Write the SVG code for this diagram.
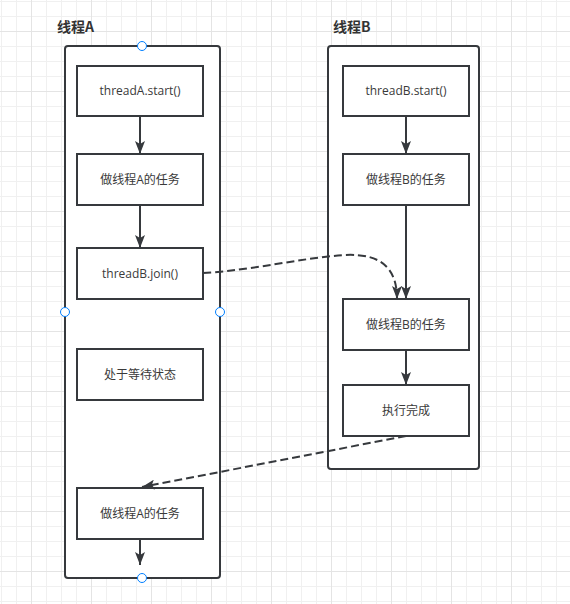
<svg xmlns="http://www.w3.org/2000/svg" width="570" height="604" viewBox="0 0 570 604">
<defs>
<pattern id="grid" x="1" y="1" width="60" height="60" patternUnits="userSpaceOnUse">
<rect x="0" y="0" width="60" height="60" fill="#ffffff"/>
<g fill="#f0f0f0">
<rect x="0" y="0" width="1" height="60"/>
<rect x="15" y="0" width="1" height="60"/>
<rect x="45" y="0" width="1" height="60"/>
<rect x="0" y="0" width="60" height="1"/>
<rect x="0" y="15" width="60" height="1"/>
<rect x="0" y="45" width="60" height="1"/>
</g>
<g fill="#e4e4e4">
<rect x="30" y="0" width="1" height="60"/>
<rect x="0" y="30" width="60" height="1"/>
</g>
</pattern>
<marker id="arr" viewBox="0 0 13 10" refX="13" refY="5" markerWidth="13" markerHeight="10" markerUnits="userSpaceOnUse" orient="auto">
<path d="M0,0 L13,5 L0,10 L3,5 z" fill="#36393d"/>
</marker>
<style>
.cont{fill:#ffffff;stroke:#36393d;stroke-width:2}
.box{fill:#ffffff;stroke:#36393d;stroke-width:2}
.lbl{font-family:"Open Sans","Noto Sans CJK SC",sans-serif;font-size:12px;fill:#3a3a3a;text-anchor:middle}
.title{font-family:"Noto Sans CJK SC","Liberation Sans",sans-serif;font-size:14px;font-weight:bold;fill:#333333}
.edge{fill:none;stroke:#36393d;stroke-width:2;marker-end:url(#arr)}
.dash{stroke-dasharray:8 4}
.hdl{fill:#ffffff;stroke:#007fff;stroke-width:1}
</style>
</defs>
<rect x="0" y="0" width="570" height="604" fill="url(#grid)"/>

<g id="threadA">
<rect class="cont" x="65" y="46" width="155" height="532" rx="3"/>
<text class="title" x="57" y="32">线程A</text>
</g>
<g id="threadB">
<rect class="cont" x="328" y="46" width="151" height="423" rx="3"/>
<text class="title" x="333" y="32">线程B</text>
</g>

<g id="a_start">
<rect class="box" x="77" y="66" width="126" height="50"/>
<text class="lbl" x="140" y="95">threadA.start()</text>
</g>
<g id="a_task1">
<rect class="box" x="77" y="154" width="126" height="51"/>
<text class="lbl" x="140" y="184">做线程A的任务</text>
</g>
<g id="a_join">
<rect class="box" x="77" y="248" width="126" height="51"/>
<text class="lbl" x="140" y="278">threadB.join()</text>
</g>
<g id="a_wait">
<rect class="box" x="77" y="349" width="126" height="51"/>
<text class="lbl" x="140" y="379">处于等待状态</text>
</g>
<g id="a_task2">
<rect class="box" x="77" y="488" width="126" height="51"/>
<text class="lbl" x="140" y="518">做线程A的任务</text>
</g>

<g id="b_start">
<rect class="box" x="343" y="66" width="126" height="50"/>
<text class="lbl" x="406" y="95">threadB.start()</text>
</g>
<g id="b_task1">
<rect class="box" x="343" y="154" width="126" height="51"/>
<text class="lbl" x="406" y="184">做线程B的任务</text>
</g>
<g id="b_task2">
<rect class="box" x="343" y="299" width="126" height="51"/>
<text class="lbl" x="406" y="329">做线程B的任务</text>
</g>
<g id="b_done">
<rect class="box" x="343" y="385" width="126" height="51"/>
<text class="lbl" x="406" y="415">执行完成</text>
</g>

<g id="connectors">
<path class="edge" d="M140,116 L140,154"/>
<path class="edge" d="M140,205 L140,248"/>
<path class="edge" d="M140,539 L140,565"/>
<path class="edge" d="M406,116 L406,154"/>
<path class="edge" d="M406,205 L406,299"/>
<path class="edge" d="M406,350 L406,385"/>
<path class="edge dash" d="M203,273 C255,270 300,258 345,255 C385,253 397,272 397,299"/>
<path class="edge dash" d="M406,436 L142,487"/>
</g>

<g id="handles">
<circle class="hdl" cx="142" cy="46" r="4.5"/>
<circle class="hdl" cx="142" cy="578" r="4.5"/>
<circle class="hdl" cx="65" cy="312" r="4.5"/>
<circle class="hdl" cx="220" cy="312" r="4.5"/>
</g>
</svg>
